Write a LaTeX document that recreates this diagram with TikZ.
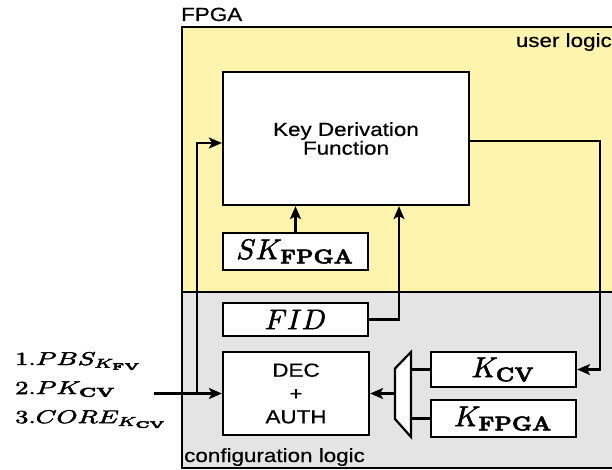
\documentclass[tikz,border=0pt]{standalone}
\usepackage[no-math]{fontspec}
\newfontfamily\sanslabel[FakeStretch=1.18,FakeBold=0.5]{Liberation Sans}
\usetikzlibrary{arrows.meta,calc}
\definecolor{userfill}{RGB}{255,244,174}
\definecolor{cfgfill}{RGB}{228,228,228}
% heavier glyphs: fill and stroke the outlines
\newcommand\heavy[2]{\special{pdf:literal direct 2 Tr #1 w}#2\special{pdf:literal direct 0 Tr}}
% key names: 10pt math enlarged as a whole
\newcommand\keyname[1]{\scalebox{2.85}{\heavy{0.18}{$#1$}}}
\tikzset{
  blk/.style={draw, line width=2.2pt, fill=white, inner sep=0pt},
  wire/.style={line width=2.2pt},
  arr/.style={wire, -{Stealth[length=13pt,width=11pt,inset=3pt]}},
  sanstext/.style={font=\sanslabel\fontsize{19}{22}\selectfont},
  regionlabel/.style={sanstext, inner sep=0pt},
}
\begin{document}
\begin{tikzpicture}[x=1pt,y=-1pt]
\clip (0,0) rectangle (612,470);

% FPGA regions
\fill[userfill] (182,27) rectangle (630,292);
\fill[cfgfill] (182,292) rectangle (630,468);
\draw[wire] (182,292) -- (630,292);
\draw[wire, line join=miter] (630,27) -- (182,27) -- (182,468) -- (630,468);

\node[regionlabel, anchor=base west] (fpga) at (181,21) {FPGA};
\node[regionlabel, anchor=base east] (user) at (612,47) {user logic};
\node[regionlabel, anchor=base west] (cfg) at (184,462) {configuration logic};

% blocks
\node[blk, minimum width=246, minimum height=133, align=center,
      font=\sanslabel\fontsize{19}{16.7}\selectfont] (kdf) at (346,138.5)
      {Key Derivation\\Function};
\node[blk, minimum width=145, minimum height=37] (sk) at (295.5,251.5) {\keyname{SK_{\mathbf{FPGA}}}};
\node[blk, minimum width=145, minimum height=33] (fid) at (295.5,319.5) {\keyname{FID}};
\node[blk, minimum width=146, minimum height=83, align=center,
      font=\sanslabel\fontsize{19}{23.3}\selectfont] (dec) at (296,393.5)
      {DEC\\+\\AUTH};
\node[blk, minimum width=145, minimum height=35] (kcv) at (503.5,369.5) {\keyname{K_{\mathbf{CV}}}};
\node[blk, minimum width=145, minimum height=37] (kfpga) at (503.5,418.5) {\keyname{K_{\mathbf{FPGA}}}};

% key multiplexer
\coordinate (m1) at (395,368.5);
\coordinate (m2) at (411,352);
\coordinate (m3) at (411,437);
\coordinate (m4) at (395,419);
\draw[wire, fill=white, line join=miter] (m1) -- (m2) -- (m3) -- (m4) -- cycle;
\draw[wire] (m2 |- kcv.west) -- (kcv.west);
\draw[wire] (m2 |- kfpga.west) -- (kfpga.west);
\coordinate (muxout) at (395,393.5);
\draw[arr] (muxout) -- (dec.east);

% bitstream inputs
\node[anchor=base west, inner sep=0pt, font=\fontsize{10}{15.7}\selectfont] (inputs) at (15,365)
  {\scalebox{2.65}[1.85]{\heavy{0.22}{\begin{tabular}[t]{@{}l@{}}
    $1.PBS_{K_{\mathbf{FV}}}$\\
    $2.PK_{\mathbf{CV}}$\\
    $3.CORE_{K_{\mathbf{CV}}}$
  \end{tabular}}}};
\coordinate (src) at (154,393.5);
\coordinate (tap) at (197,393.5);
\coordinate (kdfleft) at ($(kdf.west)+(0,4.5)$);
\draw[arr] (src) -- (dec.west);
\draw[arr] (tap) |- (kdfleft);

% key derivation inputs
\draw[arr] (sk.north) -- (sk.north |- kdf.south);
\coordinate (kdfbot) at ($(kdf.south)+(53,0)$);
\draw[arr] (fid.east) -| (kdfbot);

% derived key output
\coordinate (kdfout) at ($(kdf.east)+(0,2.5)$);
\coordinate (bend) at (600,141);
\draw[arr] (kdfout) -- (bend) |- (kcv.east);
\end{tikzpicture}
\end{document}
